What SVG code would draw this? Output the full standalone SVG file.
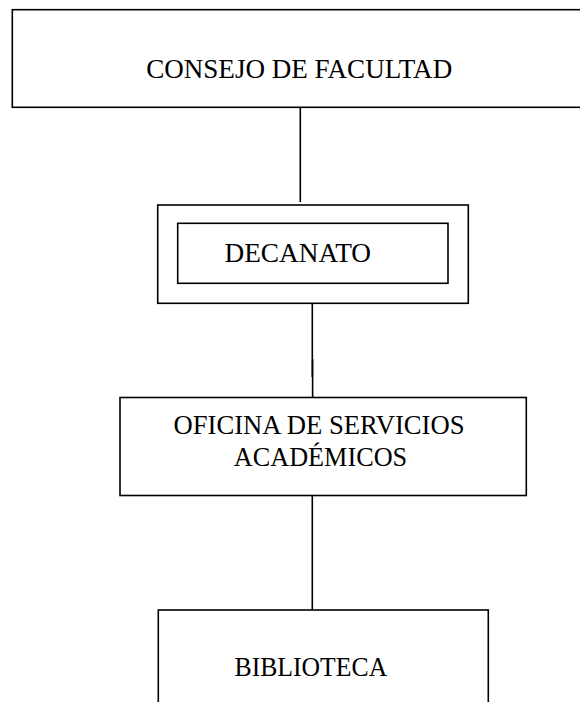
<svg xmlns="http://www.w3.org/2000/svg" width="580" height="702" viewBox="0 0 580 702">
<style>
.box{fill:#fff;stroke:#000;stroke-width:1.6}
.lbl{font-family:"Liberation Serif","Times New Roman",serif;font-size:26.4px;fill:#000}
.conn{stroke:#000;stroke-width:1.6;fill:none}
</style>
<rect width="580" height="702" fill="#fff"/>
<g id="connectors">
<line class="conn" x1="300.3" y1="107" x2="300.3" y2="202"/>
<line class="conn" x1="312.3" y1="301" x2="312.3" y2="377"/>
<line class="conn" x1="312.6" y1="359" x2="312.6" y2="398"/>
<line class="conn" x1="312.3" y1="496" x2="312.3" y2="610"/>
</g>
<g id="consejo">
<rect class="box" x="12.3" y="9.7" width="590" height="97.6"/>
<text class="lbl" x="146.2" y="78.3" textLength="306" lengthAdjust="spacingAndGlyphs">CONSEJO DE FACULTAD</text>
</g>
<g id="decanato">
<rect class="box" x="157.7" y="205" width="310.6" height="98.3"/>
<rect class="box" x="177.7" y="223.3" width="270.3" height="60"/>
<text class="lbl" x="224.5" y="261.7" textLength="146.5" lengthAdjust="spacingAndGlyphs">DECANATO</text>
</g>
<g id="oficina">
<rect class="box" x="120" y="397.5" width="406.3" height="98"/>
<text class="lbl" x="173.5" y="434" textLength="291" lengthAdjust="spacingAndGlyphs">OFICINA DE SERVICIOS</text>
<text class="lbl" x="233.8" y="465.7" textLength="173.4" lengthAdjust="spacingAndGlyphs">ACADÉMICOS</text>
</g>
<g id="biblioteca">
<rect class="box" x="158.3" y="610" width="330" height="120"/>
<text class="lbl" x="234.5" y="676" textLength="152.7" lengthAdjust="spacingAndGlyphs">BIBLIOTECA</text>
</g>
</svg>
